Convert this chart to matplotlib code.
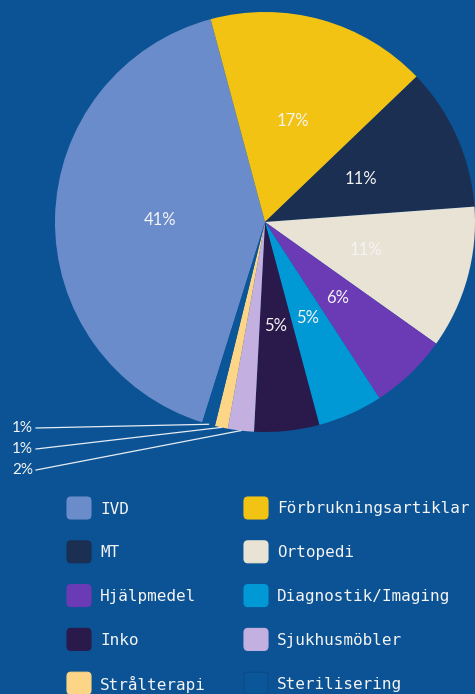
import numpy as np
from matplotlib import pyplot as plt
from matplotlib.patches import FancyBboxPatch

# data
categories = ["IVD", "Förbrukningsartiklar", "MT", "Ortopedi", "Hjälpmedel",
              "Diagnostik/Imaging", "Inko", "Sjukhusmöbler", "Strålterapi", "Sterilisering"]
shares = [41, 17, 11, 11, 6, 5, 5, 2, 1, 1]
colors = ["#6b8ccb", "#f3c314", "#1b2f52", "#e8e3d4", "#6a3bb5",
          "#0099d6", "#2a1a4b", "#c3b0e0", "#fdd586", "#0a5699"]
# slices labelled outside, listed top to bottom
outside = ["Sterilisering", "Strålterapi", "Sjukhusmöbler"]

bg = "#0b5394"
W, H = 475, 694

fig = plt.figure(figsize=(W / 100, H / 100), dpi=100)
fig.patch.set_facecolor(bg)

# pie axes: centre (265, 222) px, radius 210 px
cx, cy, R = 265, 222, 210
ax = fig.add_axes([(cx - R) / W, (H - cy - R) / H, 2 * R / W, 2 * R / H])
ax.set_facecolor(bg)
wedges, _ = ax.pie(shares, colors=colors, startangle=252.6, counterclock=False,
                   radius=1, wedgeprops=dict(linewidth=0))
ax.set_xlim(-1, 1)
ax.set_ylim(-1, 1)
ax.set_aspect('equal')
ax.axis('off')

txt_col = "#f4f4f4"
for i, w in enumerate(wedges):
    mid = np.deg2rad((w.theta1 + w.theta2) / 2)
    if categories[i] in outside:
        k = outside.index(categories[i])
        ex, ey = np.cos(mid), np.sin(mid)
        ly = (cy - (428 + 21 * k)) / R
        lx = (36 - cx) / R
        ax.plot([lx, ex], [ly, ey], color="#e6ecf4", lw=0.9, clip_on=False)
        ax.text(lx - 0.015, ly, f"{shares[i]}%", ha='right', va='center',
                color=txt_col, fontsize=11, family='Lato', clip_on=False)
    else:
        r = 0.5
        ax.text(r * np.cos(mid), r * np.sin(mid), f"{shares[i]}%", ha='center',
                va='center', color=txt_col, fontsize=12, family='Lato')

# legend, drawn in pixel coordinates
lg = fig.add_axes([0, 0, 1, 1])
lg.set_xlim(0, W)
lg.set_ylim(H, 0)
lg.axis('off')
lg.patch.set_alpha(0)

col_x = [67, 244]
row_y0, row_dy = 508, 43.8
for i, (name, c) in enumerate(zip(categories, colors)):
    col = i % 2
    row = i // 2
    x0 = col_x[col]
    y0 = row_y0 + row * row_dy
    box = FancyBboxPatch((x0 + 4, y0 - 7), 16, 14,
                         boxstyle="round,pad=4", fc=c,
                         ec="#0a4a86" if name == "Sterilisering" else c, lw=0.8)
    lg.add_patch(box)
    lg.text(x0 + 33, y0 + 1, name, ha='left', va='center', color=txt_col,
            fontsize=11.5, family='DejaVu Sans Mono')

fig.savefig("out.png", dpi=100, facecolor=bg)
